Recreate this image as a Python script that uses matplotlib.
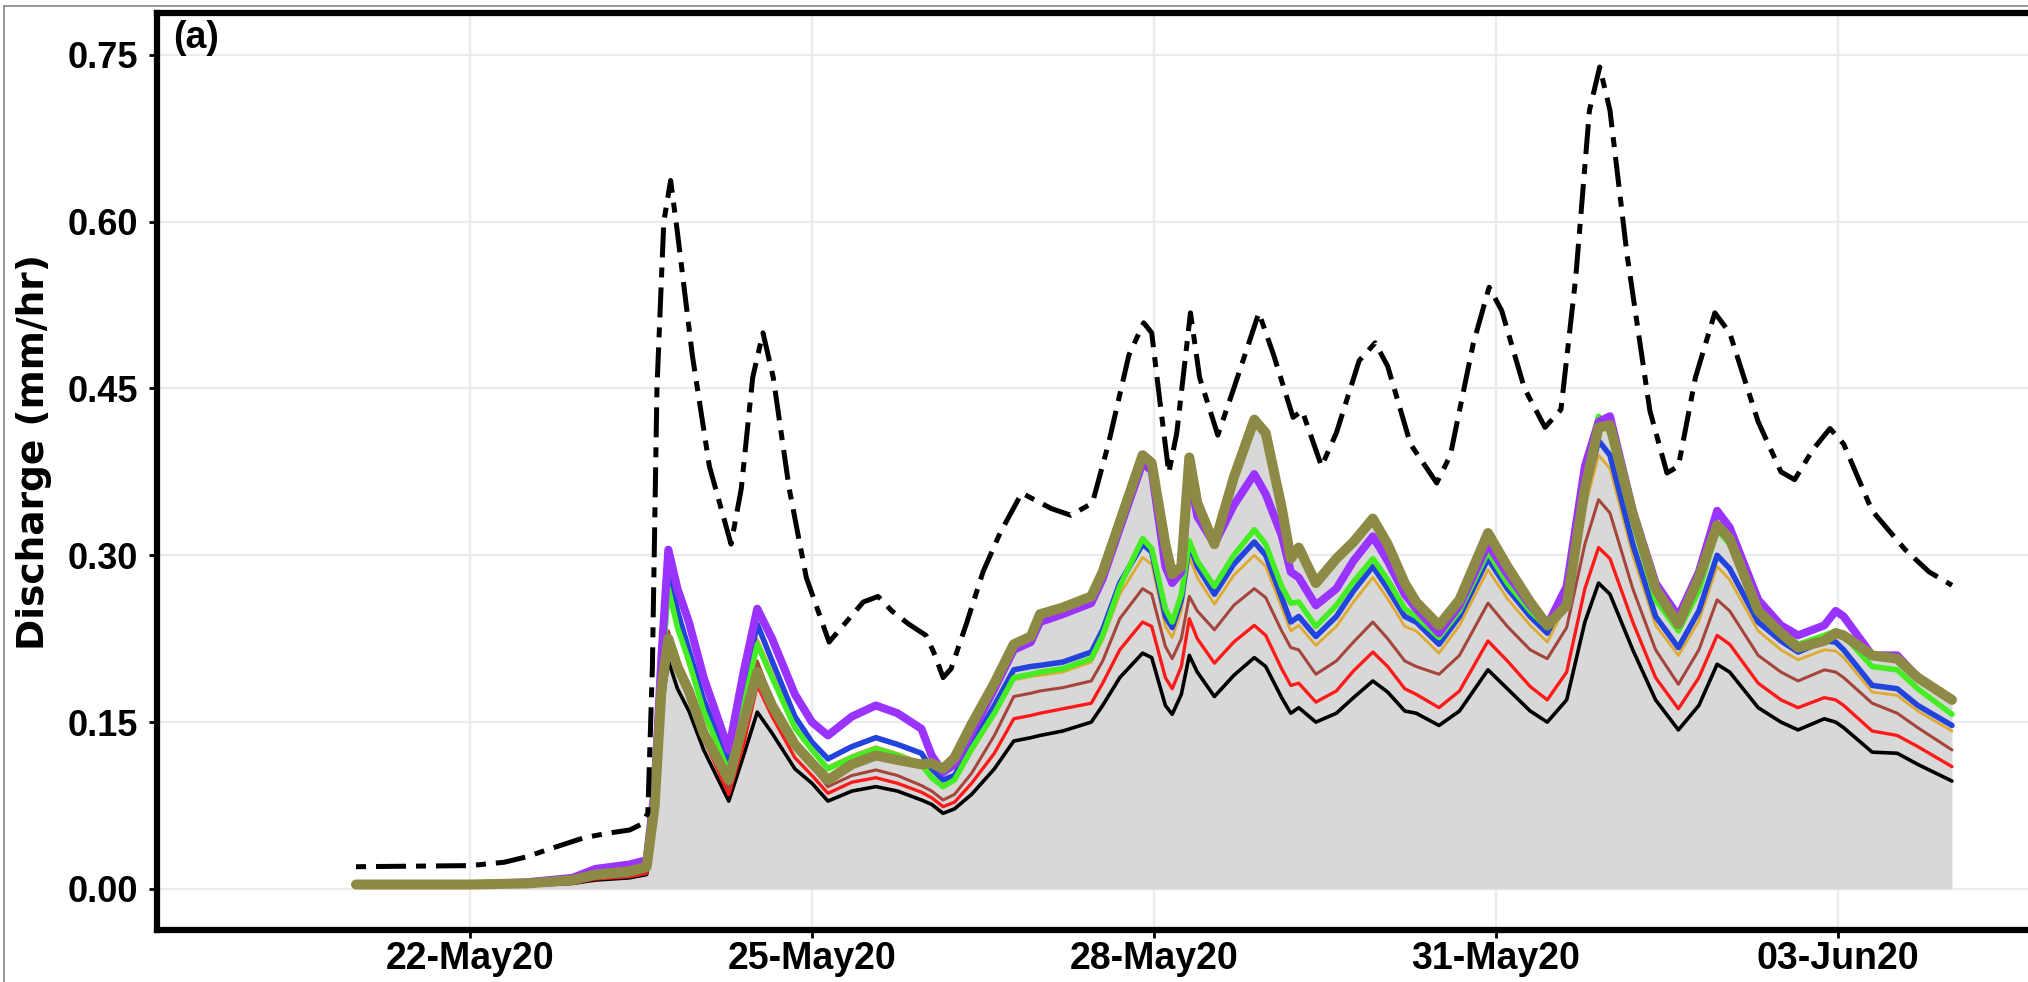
import pandas as pd
import matplotlib
matplotlib.use('Agg')
import matplotlib.pyplot as plt
import matplotlib.dates as mdates
from matplotlib.lines import Line2D

start = pd.Timestamp('2020-05-21 00:00')

# simulated series, days since 21-May 00:00
t_sim = [0.0, 1.0, 1.5, 1.9, 2.1, 2.4, 2.55,
         2.62, 2.68, 2.74, 2.82, 2.92,
         3.05, 3.27, 3.40, 3.52, 3.65,
         3.85, 4.0, 4.14, 4.35, 4.56,
         4.75, 4.96, 5.05, 5.15, 5.25,
         5.4, 5.6, 5.77, 5.92, 6.0,
         6.2, 6.45, 6.55, 6.7, 6.9,
         6.98, 7.1, 7.16, 7.24, 7.31,
         7.38, 7.53, 7.7, 7.88, 7.98,
         8.12, 8.2, 8.27, 8.42, 8.6,
         8.75, 8.92, 9.05, 9.2, 9.3,
         9.5, 9.68, 9.93, 10.1, 10.3,
         10.45, 10.62, 10.78, 10.9, 11.0,
         11.2, 11.4, 11.6, 11.78, 11.94,
         12.05, 12.3, 12.5, 12.65, 12.88,
         12.98, 13.05, 13.3, 13.52, 13.7,
         14.0]

q_black = [0.002, 0.002, 0.003, 0.005, 0.008, 0.010, 0.013,
           0.060, 0.160, 0.205, 0.180, 0.160,
           0.125, 0.079, 0.120, 0.159, 0.140,
           0.108, 0.095, 0.079, 0.088, 0.092,
           0.088, 0.080, 0.076, 0.068, 0.072,
           0.085, 0.108, 0.133, 0.136, 0.138,
           0.142, 0.150, 0.165, 0.190, 0.212,
           0.208, 0.165, 0.157, 0.175, 0.210,
           0.195, 0.173, 0.192, 0.208, 0.200,
           0.172, 0.158, 0.163, 0.150, 0.158,
           0.172, 0.187, 0.177, 0.160, 0.158,
           0.147, 0.160, 0.197, 0.180, 0.160,
           0.150, 0.170, 0.240, 0.275, 0.265,
           0.215, 0.170, 0.143, 0.165, 0.202,
           0.195, 0.163, 0.150, 0.143, 0.153,
           0.150, 0.145, 0.123, 0.122, 0.112,
           0.097]

q_red = [0.002, 0.002, 0.003, 0.005, 0.009, 0.011, 0.014,
         0.065, 0.170, 0.225, 0.195, 0.175,
         0.135, 0.085, 0.130, 0.183, 0.155,
         0.118, 0.102, 0.086, 0.096, 0.100,
         0.095, 0.087, 0.082, 0.074, 0.078,
         0.095, 0.122, 0.153, 0.156, 0.158,
         0.162, 0.167, 0.185, 0.215, 0.240,
         0.236, 0.190, 0.180, 0.200, 0.243,
         0.225, 0.203, 0.222, 0.237, 0.228,
         0.198, 0.183, 0.185, 0.168, 0.178,
         0.196, 0.213, 0.200, 0.180, 0.175,
         0.163, 0.178, 0.223, 0.205, 0.182,
         0.170, 0.195, 0.270, 0.307, 0.297,
         0.240, 0.190, 0.162, 0.190, 0.228,
         0.220, 0.185, 0.170, 0.163, 0.172,
         0.170, 0.165, 0.142, 0.138, 0.128,
         0.110]

q_brown = [0.003, 0.003, 0.004, 0.006, 0.010, 0.012, 0.016,
           0.070, 0.175, 0.232, 0.205, 0.180,
           0.140, 0.090, 0.140, 0.205, 0.170,
           0.128, 0.110, 0.092, 0.102, 0.107,
           0.102, 0.093, 0.088, 0.080, 0.085,
           0.104, 0.138, 0.173, 0.176, 0.178,
           0.181, 0.187, 0.205, 0.243, 0.270,
           0.265, 0.218, 0.207, 0.225, 0.263,
           0.250, 0.233, 0.255, 0.270, 0.262,
           0.232, 0.217, 0.215, 0.193, 0.205,
           0.222, 0.240, 0.225, 0.205, 0.200,
           0.193, 0.210, 0.257, 0.236, 0.215,
           0.207, 0.235, 0.310, 0.350, 0.338,
           0.270, 0.215, 0.184, 0.215, 0.260,
           0.250, 0.210, 0.195, 0.187, 0.197,
           0.195, 0.190, 0.167, 0.158, 0.145,
           0.125]

q_orange = [0.003, 0.003, 0.004, 0.006, 0.010, 0.013, 0.017,
            0.075, 0.190, 0.270, 0.235, 0.200,
            0.160, 0.108, 0.170, 0.225, 0.195,
            0.147, 0.125, 0.110, 0.120, 0.128,
            0.122, 0.114, 0.102, 0.093, 0.097,
            0.123, 0.157, 0.188, 0.191, 0.192,
            0.195, 0.204, 0.224, 0.265, 0.298,
            0.292, 0.236, 0.226, 0.250, 0.298,
            0.280, 0.256, 0.282, 0.300, 0.290,
            0.253, 0.232, 0.237, 0.219, 0.236,
            0.258, 0.280, 0.261, 0.236, 0.232,
            0.212, 0.237, 0.287, 0.261, 0.237,
            0.222, 0.256, 0.343, 0.390, 0.378,
            0.300, 0.237, 0.210, 0.241, 0.290,
            0.278, 0.232, 0.215, 0.206, 0.215,
            0.214, 0.208, 0.177, 0.174, 0.160,
            0.142]

q_blue = [0.003, 0.003, 0.004, 0.007, 0.011, 0.014, 0.018,
          0.080, 0.200, 0.290, 0.250, 0.215,
          0.170, 0.115, 0.180, 0.238, 0.205,
          0.155, 0.132, 0.117, 0.128, 0.136,
          0.130, 0.122, 0.108, 0.098, 0.102,
          0.130, 0.165, 0.197, 0.200, 0.201,
          0.204, 0.213, 0.233, 0.275, 0.310,
          0.303, 0.245, 0.235, 0.260, 0.310,
          0.290, 0.265, 0.292, 0.312, 0.300,
          0.262, 0.240, 0.245, 0.227, 0.245,
          0.268, 0.290, 0.270, 0.245, 0.240,
          0.220, 0.245, 0.297, 0.270, 0.245,
          0.230, 0.265, 0.355, 0.403, 0.390,
          0.310, 0.245, 0.217, 0.250, 0.300,
          0.288, 0.240, 0.223, 0.213, 0.223,
          0.222, 0.215, 0.183, 0.180, 0.165,
          0.147]

q_green = [0.003, 0.003, 0.004, 0.007, 0.011, 0.014, 0.018,
           0.080, 0.190, 0.270, 0.235, 0.205,
           0.160, 0.105, 0.165, 0.220, 0.190,
           0.145, 0.125, 0.108, 0.118, 0.126,
           0.120, 0.112, 0.100, 0.092, 0.098,
           0.126, 0.158, 0.190, 0.193, 0.195,
           0.198, 0.207, 0.228, 0.272, 0.315,
           0.306, 0.252, 0.240, 0.265, 0.313,
           0.295, 0.272, 0.300, 0.323, 0.310,
           0.272, 0.257, 0.258, 0.236, 0.255,
           0.276, 0.297, 0.278, 0.252, 0.245,
           0.226, 0.250, 0.303, 0.275, 0.250,
           0.235, 0.270, 0.375, 0.425, 0.410,
           0.330, 0.260, 0.232, 0.268, 0.323,
           0.310, 0.255, 0.232, 0.220, 0.228,
           0.232, 0.228, 0.200, 0.197, 0.180,
           0.157]

q_purple = [0.004, 0.004, 0.006, 0.010, 0.018, 0.022, 0.026,
            0.090, 0.210, 0.305, 0.270, 0.240,
            0.190, 0.125, 0.195, 0.252, 0.225,
            0.175, 0.150, 0.138, 0.155, 0.165,
            0.158, 0.144, 0.120, 0.105, 0.112,
            0.140, 0.180, 0.215, 0.222, 0.240,
            0.247, 0.257, 0.279, 0.324, 0.383,
            0.376, 0.290, 0.275, 0.285, 0.375,
            0.335, 0.310, 0.345, 0.373, 0.355,
            0.318, 0.285, 0.280, 0.255, 0.270,
            0.295, 0.317, 0.295, 0.265, 0.252,
            0.230, 0.255, 0.310, 0.283, 0.255,
            0.237, 0.272, 0.380, 0.420, 0.425,
            0.340, 0.275, 0.245, 0.285, 0.340,
            0.325, 0.260, 0.237, 0.228, 0.237,
            0.250, 0.245, 0.210, 0.210, 0.190,
            0.170]

q_olive = [0.004, 0.004, 0.005, 0.008, 0.013, 0.016, 0.020,
           0.075, 0.180, 0.225, 0.200, 0.178,
           0.140, 0.098, 0.150, 0.195, 0.165,
           0.130, 0.113, 0.098, 0.112, 0.120,
           0.116, 0.112, 0.113, 0.108, 0.118,
           0.148, 0.185, 0.220, 0.227, 0.247,
           0.253, 0.263, 0.285, 0.330, 0.390,
           0.383, 0.310, 0.283, 0.290, 0.388,
           0.347, 0.310, 0.370, 0.422, 0.410,
           0.343, 0.297, 0.307, 0.275, 0.297,
           0.312, 0.333, 0.310, 0.275, 0.258,
           0.237, 0.260, 0.320, 0.290, 0.258,
           0.237, 0.255, 0.360, 0.415, 0.417,
           0.337, 0.270, 0.238, 0.280, 0.327,
           0.315, 0.250, 0.230, 0.217, 0.223,
           0.230, 0.228, 0.210, 0.207, 0.190,
           0.170]

# dashed series
t_obs = [0.0, 1.0, 1.3, 1.5, 1.7, 2.0, 2.2, 2.4, 2.5, 2.56, 2.6, 2.64, 2.7,
         2.76, 2.82, 2.95, 3.1, 3.29, 3.38, 3.48, 3.57, 3.66, 3.8, 3.95,
         4.15, 4.3, 4.45, 4.58, 4.7, 4.85, 5.0, 5.08, 5.15, 5.22, 5.35,
         5.5, 5.65, 5.84, 5.95, 6.1, 6.27, 6.46, 6.6, 6.78, 6.91, 6.98,
         7.05, 7.13, 7.2, 7.32, 7.4, 7.56, 7.7, 7.92, 8.05, 8.22, 8.3,
         8.47, 8.6, 8.8, 8.94, 9.05, 9.25, 9.48, 9.6, 9.8, 9.94, 10.05,
         10.25, 10.43, 10.57, 10.7, 10.82, 10.91, 11.0, 11.15, 11.35, 11.5,
         11.6, 11.75, 11.92, 12.05, 12.3, 12.5, 12.62, 12.78, 12.93, 13.05,
         13.3, 13.59, 13.8, 14.0]
q_obs = [0.020, 0.021, 0.024, 0.029, 0.036, 0.046, 0.050, 0.053, 0.058, 0.068,
         0.200, 0.450, 0.600, 0.637, 0.590, 0.480, 0.380, 0.310, 0.360, 0.460,
         0.500, 0.460, 0.360, 0.280, 0.222, 0.240, 0.258, 0.263, 0.250, 0.238,
         0.228, 0.210, 0.190, 0.198, 0.237, 0.285, 0.320, 0.356, 0.350, 0.342,
         0.336, 0.347, 0.400, 0.480, 0.509, 0.500, 0.440, 0.374, 0.410, 0.518,
         0.460, 0.408, 0.450, 0.518, 0.480, 0.424, 0.430, 0.380, 0.410, 0.475,
         0.491, 0.470, 0.400, 0.365, 0.390, 0.490, 0.541, 0.520, 0.450, 0.415,
         0.431, 0.550, 0.700, 0.739, 0.700, 0.570, 0.430, 0.374, 0.380, 0.460,
         0.518, 0.500, 0.420, 0.375, 0.368, 0.395, 0.414, 0.400, 0.340, 0.305,
         0.285, 0.273]

x_ticks = ['2020-05-22', '2020-05-25', '2020-05-28', '2020-05-31', '2020-06-03']
y_ticks = [0.0, 0.15, 0.30, 0.45, 0.60, 0.75]


def to_dates(days):
    return start + pd.to_timedelta(days, unit='D')


plt.rcParams['font.family'] = ['Liberation Sans', 'DejaVu Sans']
plt.rcParams['font.weight'] = 'bold'

W, H = 2028, 982
fig = plt.figure(figsize=(W / 100, H / 100), dpi=100)
ax = fig.add_axes([156.5 / W, 52 / H, 1 - 156.5 / W, (930 - 12.5) / H])

ds = to_dates(t_sim)
ax.fill_between(ds, 0, q_olive, color='#d8d8d8', lw=0, zorder=1)

series = [
    (q_black, '#000000', 2.6),
    (q_red, '#ff1a1a', 2.4),
    (q_brown, '#a5453b', 2.2),
    (q_orange, '#e0aa30', 2.0),
    (q_blue, '#2244dd', 4.0),
    (q_green, '#44ee22', 4.0),
    (q_purple, '#9b33ff', 5.8),
    (q_olive, '#8c8a45', 7.2),
]
for vals, col, lw in series:
    ax.plot(ds, vals, color=col, lw=lw, solid_joinstyle='round',
            solid_capstyle='round', zorder=3)

ax.plot(to_dates(t_obs), q_obs, color='black', lw=3.6,
        linestyle=(0, (2, 2, 6, 2)), zorder=4)

ax.set_xlim(to_dates([-1.75])[0], to_dates([14.667])[0])
ax.set_ylim(-0.0369, 0.788)
ax.set_xticks(pd.to_datetime(x_ticks))
ax.xaxis.set_major_formatter(mdates.DateFormatter('%d-%b%y'))
ax.set_yticks(y_ticks)
ax.set_yticklabels([f'{v:.2f}' for v in y_ticks])

ax.grid(True, color='#ebebeb', lw=1.6, zorder=0)
ax.set_axisbelow(True)
for side in ['left', 'bottom', 'top']:
    ax.spines[side].set_linewidth(4.5)
ax.spines['right'].set_visible(False)
ax.tick_params(axis='both', length=6, width=2, labelsize=26, color='black')
ax.tick_params(axis='y', pad=7)
ax.tick_params(axis='x', pad=2, labelsize=27)

fig.text(34 / W, 1 - 452 / H, 'Discharge (mm/hr)', rotation=90, ha='center',
         va='center', fontsize=27, fontweight='bold', family='DejaVu Sans')
fig.text(173 / W, 1 - 20 / H, '(a)', ha='left', va='top', fontsize=27,
         fontweight='bold')

# thin frame at the top and left edge of the image
fig.add_artist(Line2D([4 / W, 1], [1 - 6 / H, 1 - 6 / H], color='#888888', lw=1.2))
fig.add_artist(Line2D([4 / W, 4 / W], [0, 1 - 6 / H], color='#888888', lw=1.2))

fig.savefig('out.png', dpi=100)
